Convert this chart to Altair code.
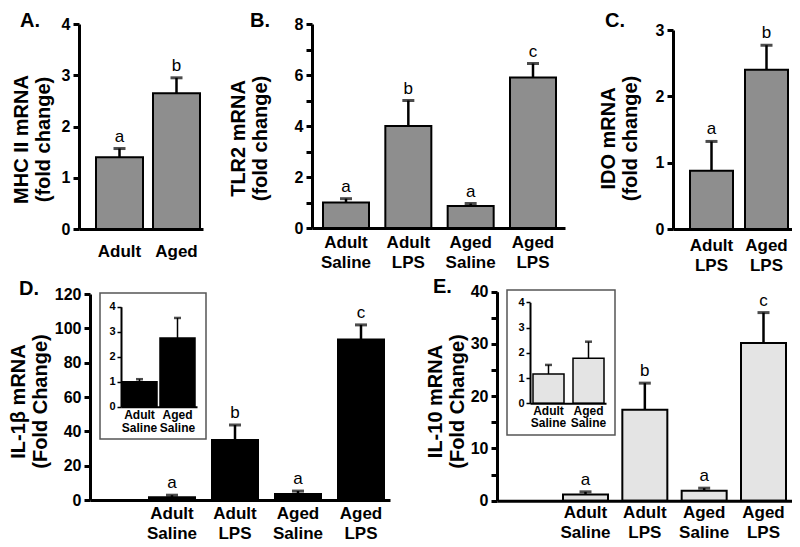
import altair as alt
import pandas as pd

# ------------------------------------------------------------------ data
a_groups = ["Adult", "Aged"]
a_values = [1.40, 2.65]
a_err = [0.17, 0.30]
a_sig = ["a", "b"]

b_groups = ["Adult Saline", "Adult LPS", "Aged Saline", "Aged LPS"]
b_values = [1.00, 4.00, 0.86, 5.90]
b_err = [0.15, 1.00, 0.10, 0.55]
b_sig = ["a", "b", "a", "c"]

c_groups = ["Adult LPS", "Aged LPS"]
c_values = [0.88, 2.40]
c_err = [0.44, 0.37]
c_sig = ["a", "b"]

d_groups = ["Adult Saline", "Adult LPS", "Aged Saline", "Aged LPS"]
d_values = [1.6, 35.0, 3.5, 93.5]
d_err = [1.2, 8.7, 1.7, 8.5]
d_sig = ["a", "b", "a", "c"]

di_groups = ["Adult Saline", "Aged Saline"]
di_values = [1.00, 2.75]
di_err = [0.10, 0.80]

e_groups = ["Adult Saline", "Adult LPS", "Aged Saline", "Aged LPS"]
e_values = [1.2, 17.4, 1.9, 30.2]
e_err = [0.5, 5.1, 0.5, 5.8]
e_sig = ["a", "b", "a", "c"]

ei_groups = ["Adult Saline", "Aged Saline"]
ei_values = [1.16, 1.78]
ei_err = [0.36, 0.66]

# ------------------------------------------------------------------ layout
M = 8
W, H = 784, 536
FONT = "Liberation Sans"
TITLE_LH = 22


def band_params(r0, r1, n, s, e, bw):
    step = (e - s - bw) / (n - 1)
    pi = 1 - bw / step
    po = ((r1 - r0) / step - n + pi) / 2
    align = (s - r0) / ((r1 - r0) - (e - s))
    return pi, max(po, 0), min(max(align, 0), 1)


def make_df(groups, values, errs, sig=None):
    df = pd.DataFrame({"group": groups, "value": values, "err": errs})
    df["top"] = df["value"] + df["err"]
    df["sig"] = sig if sig is not None else [""] * len(groups)
    return df


def panel(df, geo, ydom, yvals, label_mod, title, fill, inset=False):
    pi, po, al = band_params(geo["ax"], geo["xend"], len(df), geo["s"], geo["e"], geo["bw"])
    xs = alt.Scale(type="band", domain=list(df["group"]),
                   range=[geo["ax"] - M, geo["xend"] - M],
                   paddingInner=pi, paddingOuter=po, align=al)
    ys = alt.Scale(type="linear", domain=ydom, range=[geo["y0"] - M, geo["ytop"] - M],
                   nice=False, zero=True)
    xaxis = alt.Axis(orient="bottom", offset=geo["y0"] - M - H, title=None, ticks=False,
                     labelExpr="split(datum.label, ' ')", labelAngle=0, labelFont=FONT,
                     labelFontSize=12 if inset else 17, labelFontWeight="bold",
                     labelColor="black", labelPadding=geo["lp"],
                     labelLineHeight=12.5 if inset else 20,
                     domainColor="black", domainWidth=2 if inset else 3, grid=False,
                     labelOverlap=False, zindex=1)
    yargs = dict(orient="left", offset=M - geo["ax"], values=yvals, grid=False, format="d",
                 labelFont=FONT, labelFontSize=11 if inset else 16, labelFontWeight="bold",
                 labelColor="black", labelPadding=2 if inset else 3,
                 tickSize=4 if inset else 6, tickWidth=1.5 if inset else 3,
                 tickColor="black", domainColor="black", domainWidth=2 if inset else 3,
                 labelOverlap=False, zindex=1)
    if label_mod:
        yargs["labelExpr"] = f"datum.value % {label_mod} == 0 ? datum.label : ''"
    if title:
        yargs.update(title=title, titleFont=FONT, titleFontSize=20, titleFontWeight="bold",
                     titleColor="black", titleLineHeight=TITLE_LH, titleBaseline="bottom",
                     titleAngle=270, titleAlign="center",
                     titleX=geo["titleR"] - TITLE_LH - geo["ax"], titleY=geo["titleY"] - M)
    else:
        yargs["title"] = None
    yaxis = alt.Axis(**yargs)

    base = alt.Chart(df)
    bars = base.mark_bar(fill=fill, stroke="black", strokeWidth=1.5 if inset else 2).encode(
        x=alt.X("group:N", scale=xs, axis=xaxis, sort=None),
        y=alt.Y("value:Q", scale=ys, axis=yaxis),
    )
    rule = base.mark_rule(color="black", strokeWidth=1.5 if inset else 2.5).encode(
        x=alt.X("group:N", scale=xs, axis=None, sort=None),
        y=alt.Y("value:Q", scale=ys, axis=None),
        y2="top:Q",
    )
    cap = base.mark_tick(color="black", size=7 if inset else 12,
                         thickness=2.5 if inset else 3).encode(
        x=alt.X("group:N", scale=xs, axis=None, sort=None),
        y=alt.Y("top:Q", scale=ys, axis=None),
    )
    layers = [bars, rule, cap]
    if not inset:
        txt = base.mark_text(font=FONT, fontSize=17, baseline="alphabetic", dy=-7,
                             align="center", color="black").encode(
            x=alt.X("group:N", scale=xs, axis=None, sort=None),
            y=alt.Y("top:Q", scale=ys, axis=None),
            text="sig:N",
        )
        layers.append(txt)
    return layers


one = pd.DataFrame({"k": [0]})


def letter(txt, x, y):
    return alt.Chart(one).mark_text(font=FONT, fontSize=20, fontWeight="bold", align="left",
                                    baseline="alphabetic", color="black").encode(
        x=alt.value(x - M), y=alt.value(y - M), text=alt.value(txt))


def frame(x1, x2, y1, y2):
    return alt.Chart(one).mark_rect(fill="white", fillOpacity=0, stroke="#555555",
                                    strokeWidth=1.5).encode(
        x=alt.value(x1 - M), x2=alt.value(x2 - M), y=alt.value(y1 - M), y2=alt.value(y2 - M))


GRAY = "#8e8e8e"
LIGHT = "#e4e4e4"

pA = panel(make_df(a_groups, a_values, a_err, a_sig),
           dict(ax=79, y0=229, ytop=24, xend=203, s=96, e=200, bw=47, lp=14,
                titleY=139, titleR=53),
           [0, 4], [0, 0.5, 1, 1.5, 2, 2.5, 3, 3.5, 4], 1,
           ["MHC II mRNA", "(fold change)"], GRAY)
pB = panel(make_df(b_groups, b_values, b_err, b_sig),
           dict(ax=312, y0=228, ytop=24, xend=565, s=323, e=556, bw=46, lp=6,
                titleY=138, titleR=270),
           [0, 8], list(range(0, 9)), 2,
           ["TLR2  mRNA", "(fold change)"], GRAY)
pC = panel(make_df(c_groups, c_values, c_err, c_sig),
           dict(ax=673, y0=229, ytop=30, xend=792, s=690, e=788, bw=43, lp=8,
                titleY=138, titleR=640),
           [0, 3], [0, 0.5, 1, 1.5, 2, 2.5, 3], 1,
           ["IDO  mRNA", "(fold change)"], GRAY)
pD = panel(make_df(d_groups, d_values, d_err, d_sig),
           dict(ax=90, y0=500, ytop=294, xend=390, s=149, e=384, bw=46, lp=5,
                titleY=401, titleR=50),
           [0, 120], list(range(0, 121, 20)), None,
           ["IL-1β mRNA", "(Fold Change)"], "black")
pDi = panel(make_df(di_groups, di_values, di_err),
            dict(ax=121, y0=406.7, ytop=306.7, xend=197, s=122, e=195, bw=35, lp=3),
            [0, 4], [0, 1, 2, 3, 4], None, None, "black", inset=True)
pE = panel(make_df(e_groups, e_values, e_err, e_sig),
           dict(ax=497, y0=500.7, ytop=291.7, xend=792, s=563, e=786, bw=45, lp=4,
                titleY=401, titleR=467),
           [0, 40], list(range(0, 41, 5)), 10,
           ["IL-10 mRNA", "(Fold Change)"], LIGHT)
pEi = panel(make_df(ei_groups, ei_values, ei_err),
            dict(ax=530, y0=403.3, ytop=302.3, xend=606, s=533, e=604, bw=31, lp=2),
            [0, 4], [0, 1, 2, 3, 4], None, None, LIGHT, inset=True)

all_layers = (pA + pB + pC + pD + [frame(100, 206, 293, 439)] + pDi + pE
              + [frame(507, 615, 290, 435)] + pEi
              + [letter("A.", 20, 26.5), letter("B.", 250, 26.5), letter("C.", 605, 26.5),
                 letter("D.", 19, 295), letter("E.", 433, 293)])

chart = alt.layer(*all_layers).resolve_scale(
    x="independent", y="independent").properties(
    width=W, height=H, autosize="none", padding=0, background="white"
).configure_view(stroke=None)

chart.save("out.html", embed_options={"renderer": "svg", "actions": False})
